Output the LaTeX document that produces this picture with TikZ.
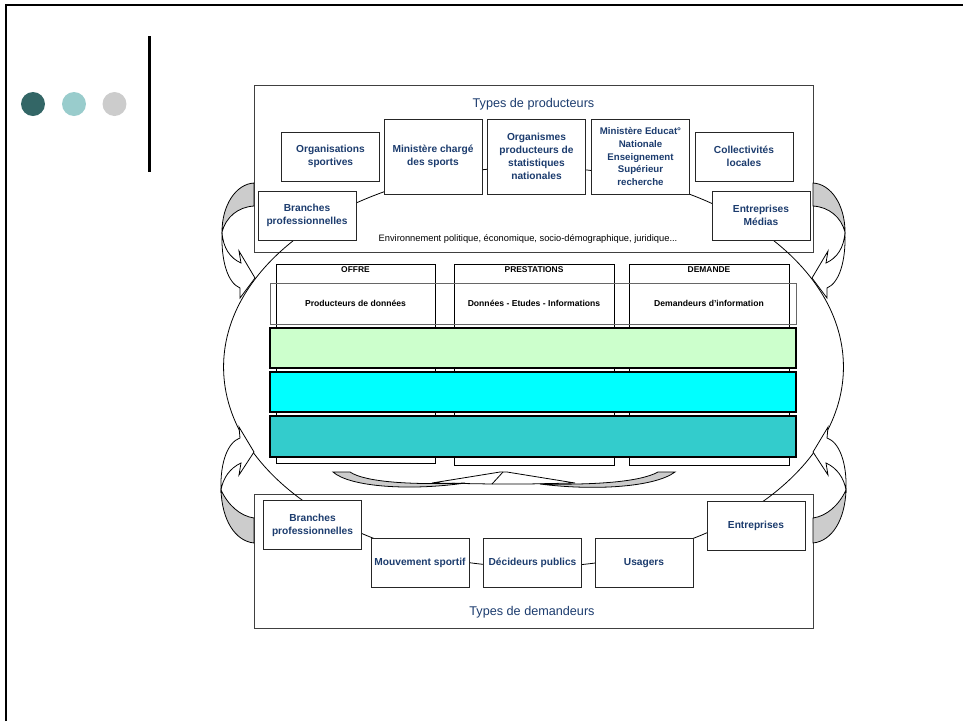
\documentclass[tikz,border=0pt]{standalone}
\usepackage{fontspec}
\setmainfont{Liberation Sans}
\usepackage{tikz}
\definecolor{bleutexte}{RGB}{28,60,110}
\definecolor{grisfleche}{RGB}{204,204,204}
\definecolor{vertpale}{RGB}{204,255,204}
\definecolor{cyanvif}{RGB}{0,255,255}
\definecolor{turquoise}{RGB}{51,204,204}
\definecolor{puceA}{RGB}{51,102,102}
\definecolor{puceB}{RGB}{153,204,204}
\definecolor{puceC}{RGB}{204,204,204}
\tikzset{
	acteur/.style={draw=black!85, fill=white, line width=0.45pt, inner sep=0pt, align=center, text=bleutexte, font=\bfseries\fontsize{5.8}{7.4}\selectfont, minimum width=1.96cm, minimum height=0.98cm},
	acteurhaut/.style={acteur, minimum height=1.5cm},
	titre/.style={text=bleutexte, font=\fontsize{7.2}{8.6}\selectfont},
	entete/.style={font=\bfseries\fontsize{4.8}{6}\selectfont},
	cadre/.style={draw=black!75, line width=0.5pt},
	colonne/.style={draw=black, line width=0.45pt},
	bande/.style={draw=black, line width=0.6pt},
	fleche/.style={draw=black, line width=0.45pt, fill=white},
	pli/.style={draw=black, line width=0.45pt, fill=grisfleche}
}

\begin{document}
\begin{tikzpicture}[x=0.02cm, y=-0.02cm]
			%%%%% START %%%%%
			\useasboundingbox (0,0) rectangle (963,721);
			
			\draw[line width=1.2pt] (6,721) -- (6,5) -- (963,5);
			\fill[puceA] (33,104) circle (0.24cm);
			\fill[puceB] (74,104) circle (0.24cm);
			\fill[puceC] (114.5,104) circle (0.24cm);
			\draw[line width=2.1pt] (149.5,36) -- (149.5,172);
			
			\draw[cadre] (254,85) rectangle (813,252);
			\draw[cadre] (254,494) rectangle (813,628);
			
			\coordinate (centre) at (533.5,367);
			\draw[line width=0.45pt] (centre) ellipse [x radius=6.2cm, y radius=4cm];
			
			\node[titre] (typesprod) at (533.5,104) {Types de producteurs};
			\node[acteur] (ors) at (330.5,156.5) {Organisations\\sportives};
			\node[acteurhaut] (mcs) at (433,156.5) {Ministère chargé\\des sports};
			\node[acteurhaut] (ops) at (536.5,156.5) {Organismes\\producteurs de\\statistiques\\nationales};
			\node[acteurhaut, font=\bfseries\fontsize{5.5}{7.3}\selectfont] (men) at (640.5,156.5) {Ministère Educat°\\Nationale\\Enseignement\\Supérieur\\recherche};
			\node[acteur] (col) at (744,156.5) {Collectivités\\locales};
			\node[acteur] (bp1) at (307,215.5) {Branches\\professionnelles};
			\node[acteur] (em) at (761,215.5) {Entreprises\\Médias};
			\node[font=\fontsize{5.3}{6.4}\selectfont] (env) at (528,239) {Environnement politique, économique, socio-démographique, juridique...};
			
			\node[acteur] (bp2) at (312.5,525) {Branches\\professionnelles};
			\node[acteur] (mvt) at (420,562.5) {Mouvement sportif};
			\node[acteur] (dp) at (532.5,563) {Décideurs publics};
			\node[acteur] (usa) at (644,563) {Usagers};
			\node[acteur] (ent) at (756,525.5) {Entreprises};
			\node[titre] (typesdem) at (532,612) {Types de demandeurs};
			
			\draw[colonne] (276,264) rectangle (435,463);
			\draw[colonne] (454,264) rectangle (614,465);
			\draw[colonne] (629,264) rectangle (789,465);
			\node[entete] (offre) at (355.5,270) {OFFRE};
			\node[entete] (prest) at (534,270) {PRESTATIONS};
			\node[entete] (dem) at (709,270) {DEMANDE};
			
			\draw[line width=0.5pt, color=black!60] (270,283) rectangle (796,324);
			\node[entete, font=\bfseries\fontsize{4.9}{6}\selectfont] (prod) at (355.5,303) {Producteurs de données};
			\node[entete, font=\bfseries\fontsize{4.9}{6}\selectfont] (donnees) at (534,303) {Données - Etudes - Informations};
			\node[entete, font=\bfseries\fontsize{4.9}{6}\selectfont] (demandeurs) at (709,303) {Demandeurs d'information};
			
			\draw[bande, fill=vertpale] (270,328) rectangle (796,368);
			\draw[bande, fill=cyanvif] (270,372) rectangle (796,412);
			\draw[bande, fill=turquoise] (270,416) rectangle (796,457);
			
			% fleches courbes
			\draw[pli] (254,183) .. controls (236,184) and (222,205) .. (222,232) .. controls (226,217) and (238,207) .. (254,206) -- cycle;
			\draw[fleche] (222,232) .. controls (221,262) and (228,283) .. (240,288) -- (240,298) -- (255,278) -- (239,251) -- (241,263) .. controls (230,258) and (223,248) .. (222,232) -- cycle;
			
			\draw[pli] (813,183) .. controls (831,184) and (845,205) .. (845,232) .. controls (841,217) and (829,207) .. (813,206) -- cycle;
			\draw[fleche] (845,232) .. controls (846,262) and (839,283) .. (827,288) -- (827,298) -- (812,278) -- (828,251) -- (826,263) .. controls (837,258) and (844,248) .. (845,232) -- cycle;
			
			\draw[pli] (254,543) .. controls (235,541) and (222,520) .. (221,490) .. controls (228,505) and (240,516) .. (254,518) -- cycle;
			\draw[fleche] (221,490) .. controls (220,462) and (228,442) .. (240,438) -- (239,427) -- (254,452) -- (239,475) -- (241,463) .. controls (230,468) and (223,478) .. (221,490) -- cycle;
			
			\draw[pli] (813,543) .. controls (832,541) and (845,520) .. (846,490) .. controls (839,505) and (827,516) .. (813,518) -- cycle;
			\draw[fleche] (846,490) .. controls (847,462) and (839,442) .. (827,438) -- (828,427) -- (813,452) -- (828,475) -- (826,463) .. controls (837,468) and (844,478) .. (846,490) -- cycle;
			
			\draw[fleche] (432,483) -- (500,472) -- (507,472) -- (575,483) -- (527,484) -- (492,484) -- cycle;
			\draw[line width=0.45pt] (492,484) -- (503,472);
			\draw[pli] (333,472) -- (350,472) .. controls (365,482) and (410,485) .. (465,483) .. controls (410,491) and (350,487) .. (333,472) -- cycle;
			\draw[pli] (675,472) -- (658,472) .. controls (640,482) and (595,485) .. (540,484) .. controls (595,491) and (655,487) .. (675,472) -- cycle;
			
			%%%%% END %%%%%
\end{tikzpicture}
\end{document}
